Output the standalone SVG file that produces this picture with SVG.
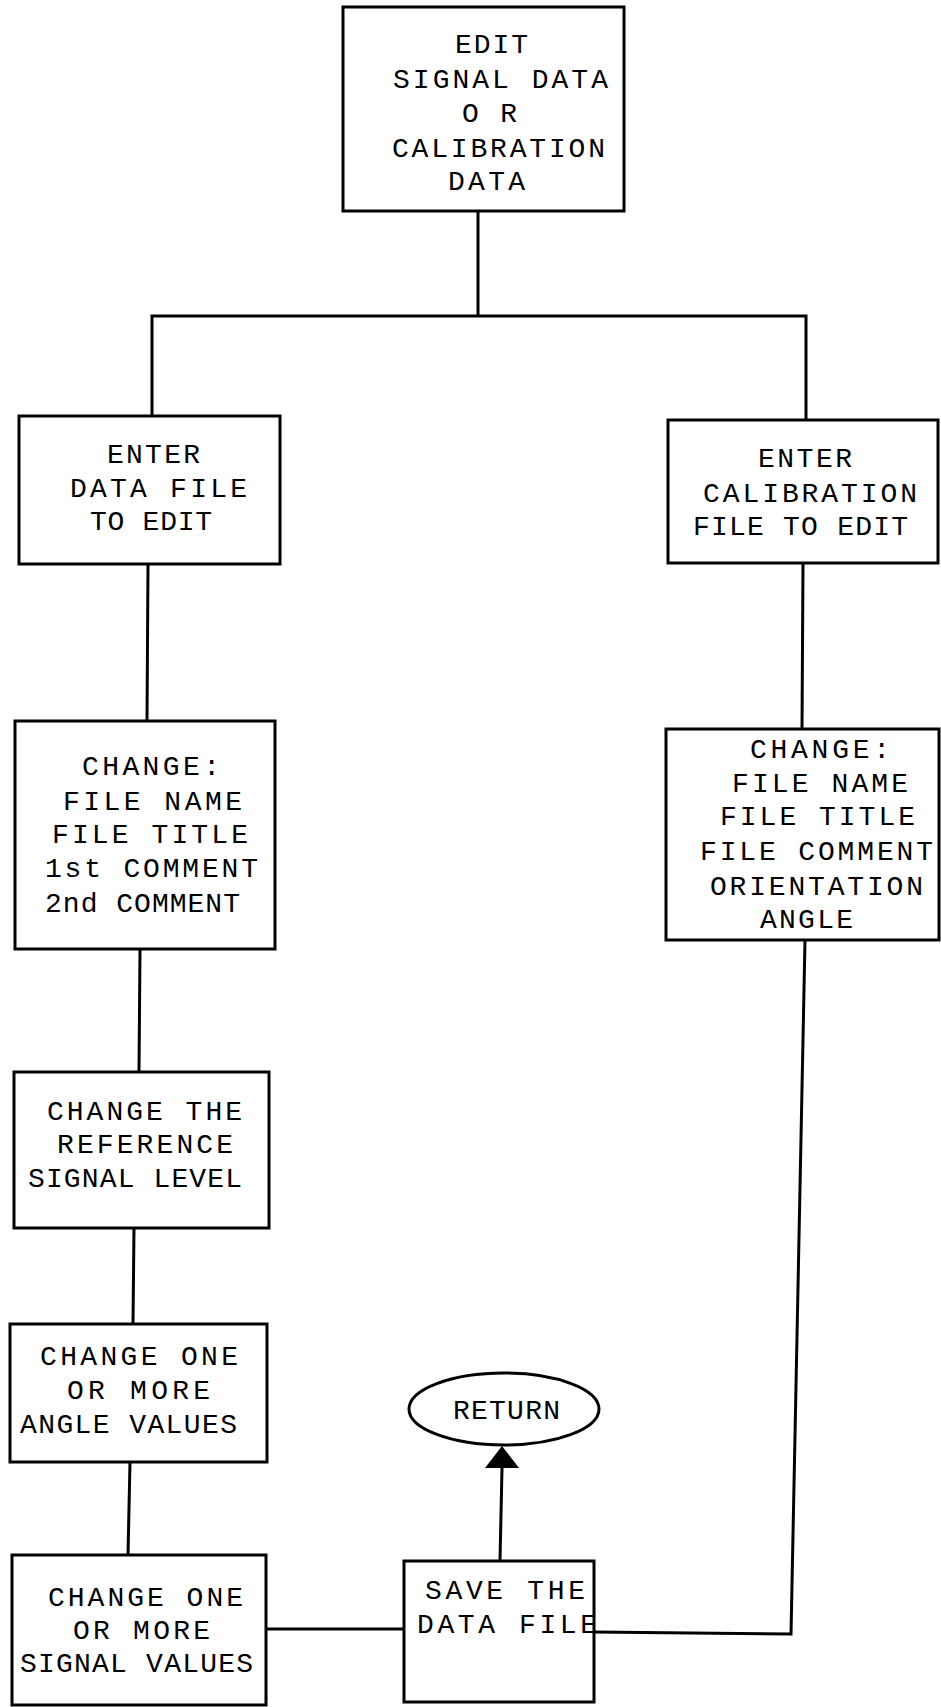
<svg xmlns="http://www.w3.org/2000/svg" width="941" height="1707" viewBox="0 0 941 1707">
<style>
.box{fill:#fff;stroke:#000;stroke-width:3}
.ln{fill:none;stroke:#000;stroke-width:3}
text{font-family:"Liberation Mono","Courier New",monospace;font-size:28px;fill:#000}
</style>
<rect width="941" height="1707" fill="#fff"/>
<g id="connectors">
<polyline class="ln" points="478,212 478,316"/>
<polyline class="ln" points="152,416 152,316 806,316 806,420"/>
<polyline class="ln" points="148,564 147,721"/>
<polyline class="ln" points="803,564 802,729"/>
<polyline class="ln" points="140,950 139,1072"/>
<polyline class="ln" points="134,1228 133,1324"/>
<polyline class="ln" points="130,1462 128,1555"/>
<polyline class="ln" points="266,1629 403,1629"/>
<polyline class="ln" points="805,940 791,1634 594,1632"/>
<polyline class="ln" points="500,1561 502,1468"/>
<path d="M502,1446 L485,1468 L519,1468 Z" fill="#000"/>
</g>
<g id="n_edit">
<rect class="box" x="343" y="7" width="281" height="204"/>
<text x="455" y="53" textLength="73" lengthAdjust="spacing">EDIT</text>
<text x="393" y="88" textLength="215" lengthAdjust="spacing">SIGNAL DATA</text>
<text x="462" y="122" textLength="55" lengthAdjust="spacing">O R</text>
<text x="392" y="157" textLength="213" lengthAdjust="spacing">CALIBRATION</text>
<text x="448" y="190" textLength="77" lengthAdjust="spacing">DATA</text>
</g>
<g id="n_enter_data">
<rect class="box" x="19" y="416" width="261" height="148"/>
<text x="107" y="463" textLength="93" lengthAdjust="spacing">ENTER</text>
<text x="70" y="497" textLength="177" lengthAdjust="spacing">DATA FILE</text>
<text x="90" y="530" textLength="122" lengthAdjust="spacing">TO EDIT</text>
</g>
<g id="n_enter_cal">
<rect class="box" x="668" y="420" width="270" height="143"/>
<text x="758" y="467" textLength="94" lengthAdjust="spacing">ENTER</text>
<text x="703" y="502" textLength="214" lengthAdjust="spacing">CALIBRATION</text>
<text x="693" y="535" textLength="215" lengthAdjust="spacing">FILE TO EDIT</text>
</g>
<g id="n_change_data">
<rect class="box" x="15" y="721" width="260" height="228"/>
<text x="82" y="775" textLength="138" lengthAdjust="spacing">CHANGE:</text>
<text x="63" y="810" textLength="179" lengthAdjust="spacing">FILE NAME</text>
<text x="52" y="843" textLength="196" lengthAdjust="spacing">FILE TITLE</text>
<text x="45" y="877" textLength="213" lengthAdjust="spacing">1st COMMENT</text>
<text x="45" y="912" textLength="195" lengthAdjust="spacing">2nd COMMENT</text>
</g>
<g id="n_change_cal">
<rect class="box" x="666" y="729" width="273" height="211"/>
<text x="750" y="758" textLength="140" lengthAdjust="spacing">CHANGE:</text>
<text x="732" y="792" textLength="176" lengthAdjust="spacing">FILE NAME</text>
<text x="720" y="825" textLength="195" lengthAdjust="spacing">FILE TITLE</text>
<text x="700" y="860" textLength="233" lengthAdjust="spacing">FILE COMMENT</text>
<text x="710" y="895" textLength="213" lengthAdjust="spacing">ORIENTATION</text>
<text x="760" y="928" textLength="93" lengthAdjust="spacing">ANGLE</text>
</g>
<g id="n_ref">
<rect class="box" x="14" y="1072" width="255" height="156"/>
<text x="47" y="1120" textLength="195" lengthAdjust="spacing">CHANGE THE</text>
<text x="57" y="1153" textLength="176" lengthAdjust="spacing">REFERENCE</text>
<text x="28" y="1187" textLength="214" lengthAdjust="spacing">SIGNAL LEVEL</text>
</g>
<g id="n_angle">
<rect class="box" x="10" y="1324" width="257" height="138"/>
<text x="40" y="1365" textLength="198" lengthAdjust="spacing">CHANGE ONE</text>
<text x="67" y="1399" textLength="143" lengthAdjust="spacing">OR MORE</text>
<text x="20" y="1433" textLength="217" lengthAdjust="spacing">ANGLE VALUES</text>
</g>
<g id="n_signal">
<rect class="box" x="12" y="1555" width="254" height="150"/>
<text x="48" y="1606" textLength="195" lengthAdjust="spacing">CHANGE ONE</text>
<text x="73" y="1639" textLength="137" lengthAdjust="spacing">OR MORE</text>
<text x="20" y="1672" textLength="233" lengthAdjust="spacing">SIGNAL VALUES</text>
</g>
<g id="n_save">
<rect class="box" x="404" y="1561" width="190" height="141"/>
<text x="425" y="1599" textLength="160" lengthAdjust="spacing">SAVE THE</text>
<text x="417" y="1633" textLength="180" lengthAdjust="spacing">DATA FILE</text>
</g>
<g id="n_return">
<ellipse cx="504" cy="1409" rx="95" ry="36" fill="#fff" stroke="#000" stroke-width="3"/>
<text x="453" y="1419" textLength="107" lengthAdjust="spacing">RETURN</text>
</g>
</svg>
